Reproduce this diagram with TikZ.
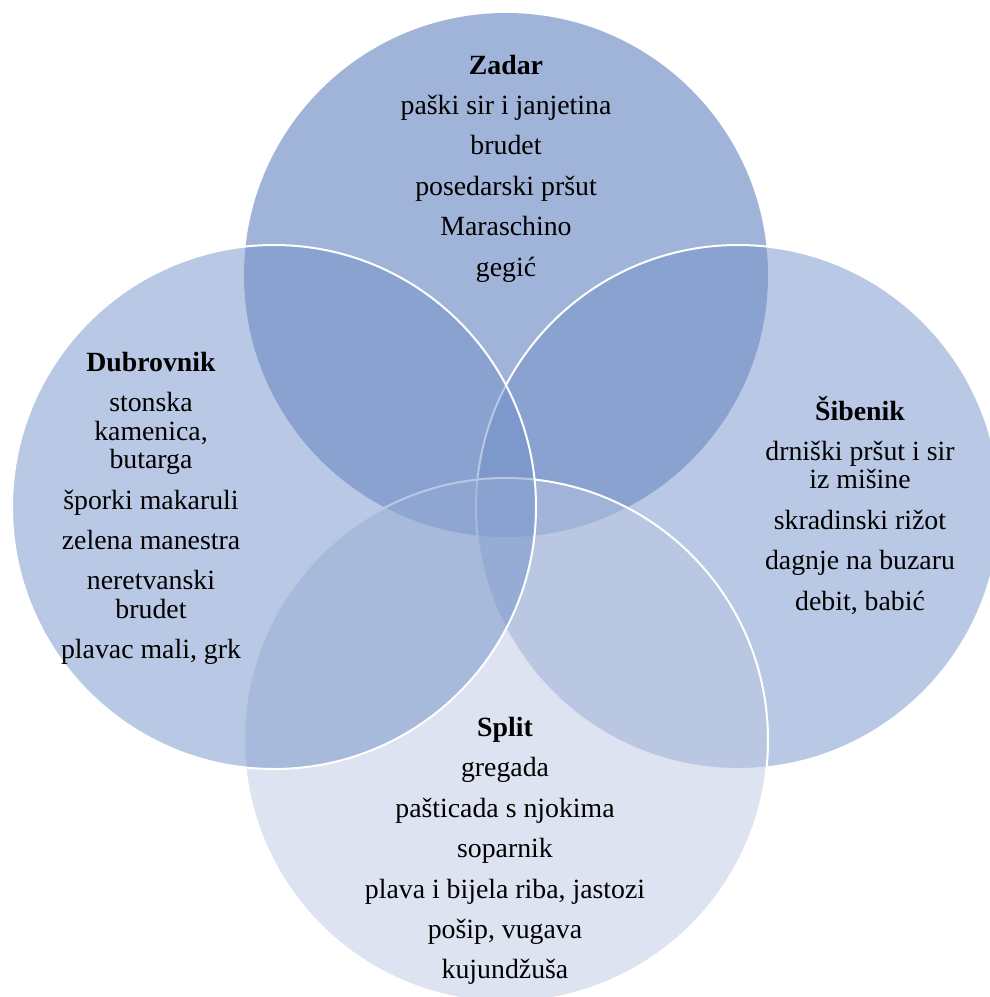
\documentclass[tikz,border=0pt]{standalone}
\usepackage{fontspec}
\setmainfont{Liberation Serif}
\usepackage{tikz}
\usetikzlibrary{positioning}

\definecolor{zadarblue}{RGB}{65,103,177}
\definecolor{sideblue}{RGB}{115,145,201}
\definecolor{splitblue}{RGB}{187,199,225}

\begin{document}
\begin{tikzpicture}[
            x = 1pt, y = -1pt, % pixel coordinates, y downwards
            node distance = 40.4pt, % distance between lines
            every node/.style = {inner sep = 0pt, text height = 20pt, text depth = 7pt,
                font = \fontsize{27.8pt}{28.4pt}\selectfont}
        ]

        \tikzstyle{venn}=[
            circle,
            draw = white,
            line width = 2pt,
            fill opacity = 0.5,
            minimum size = 524pt
        ]
        \tikzstyle{town}=[font = \fontsize{27.8pt}{28.4pt}\selectfont\bfseries]
        \tikzstyle{wrap}=[node distance = 28.4pt]

        \useasboundingbox (0,0) rectangle (990,997);
        \clip (0,0) rectangle (990,997);

        % the four sets
        \node[venn, draw = none, fill = zadarblue] (Zset) at (506,275) {};
        \node[venn, fill = sideblue] (Sset) at (738,507) {};
        \node[venn, fill = splitblue] (Pset) at (506,740) {};
        \node[venn, fill = sideblue] (Dset) at (274,507) {};

        % Zadar
        \node[town] (Z0) at (506,67.5) {Zadar};
        \node (Z1) [below of=Z0] {paški sir i janjetina};
        \node (Z2) [below of=Z1] {brudet};
        \node (Z3) [below of=Z2] {posedarski pršut};
        \node (Z4) [below of=Z3] {Maraschino};
        \node (Z5) [below of=Z4] {gegić};

        % Dubrovnik
        \node[town] (D0) at (151,365) {Dubrovnik};
        \node (D1) [below of=D0] {stonska};
        \node (D1b) [wrap, below of=D1] {kamenica,};
        \node (D1c) [wrap, below of=D1b] {butarga};
        \node (D2) [below of=D1c] {šporki makaruli};
        \node (D3) [below of=D2] {zelena manestra};
        \node (D4) [below of=D3] {neretvanski};
        \node (D4b) [wrap, below of=D4] {brudet};
        \node (D5) [below of=D4b] {plavac mali, grk};

        % Sibenik
        \node[town] (S0) at (860,413.5) {Šibenik};
        \node (S1) [below of=S0] {drniški pršut i sir};
        \node (S1b) [wrap, below of=S1] {iz mišine};
        \node (S2) [below of=S1b] {skradinski rižot};
        \node (S3) [below of=S2] {dagnje na buzaru};
        \node (S4) [below of=S3] {debit, babić};

        % Split
        \node[town] (P0) at (505,730) {Split};
        \node (P1) [below of=P0] {gregada};
        \node (P2) [below of=P1] {pašticada s njokima};
        \node (P3) [below of=P2] {soparnik};
        \node (P4) [below of=P3] {plava i bijela riba, jastozi};
        \node (P5) [below of=P4] {pošip, vugava};
        \node (P6) [below of=P5] {kujundžuša};

  \end{tikzpicture}
\end{document}
